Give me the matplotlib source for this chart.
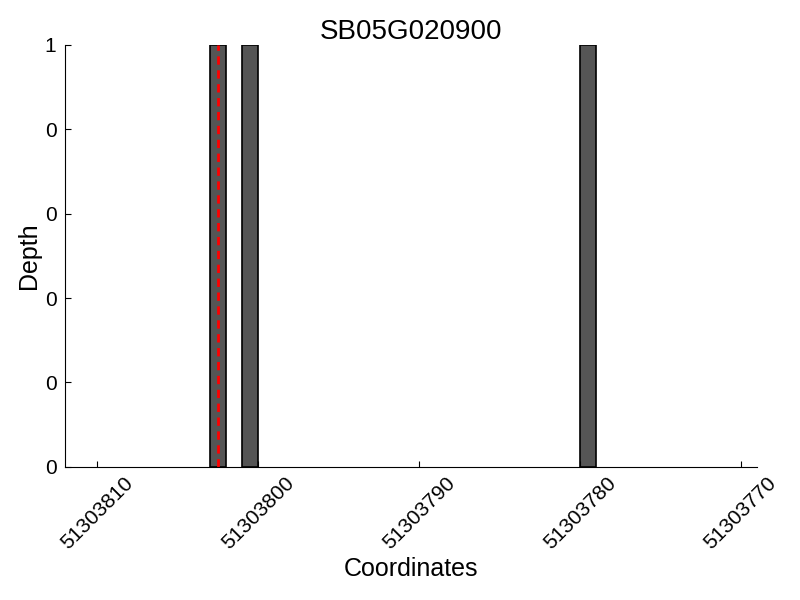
import matplotlib
matplotlib.use("Agg")
import matplotlib.pyplot as plt
from matplotlib.ticker import FuncFormatter

plt.rcParams['font.family'] = ['Liberation Sans', 'DejaVu Sans']

title = "SB05G020900"
positions = [51303802, 51303800, 51303779]
depths = [1, 1, 1]
marker_pos = 51303802.5
xticks = [51303810, 51303800, 51303790, 51303780, 51303770]
yticks = [0, 0.2, 0.4, 0.6, 0.8, 1.0]

fig = plt.figure(figsize=(8, 6), dpi=100)
ax = fig.add_axes([0.081, 0.222, 0.865, 0.703])
ax.bar(positions, depths, width=1, align='edge', color='#555555',
       edgecolor='black', linewidth=1.2)
ax.axvline(marker_pos, color='red', linestyle='--', linewidth=2, dashes=(3, 2))
ax.set_xlim(51303812, 51303769)
ax.set_ylim(0, 1)
ax.set_xticks(xticks)
ax.set_xticklabels([str(v) for v in xticks], rotation=45, ha='center')
ax.set_yticks(yticks)
ax.yaxis.set_major_formatter(FuncFormatter(lambda v, p: f"{int(v)}"))
ax.tick_params(direction='in', length=4, labelsize=15)
ax.tick_params(axis='x', pad=5)
ax.tick_params(axis='y', pad=6)
ax.spines['top'].set_visible(False)
ax.spines['right'].set_visible(False)
ax.set_xlabel("Coordinates", fontsize=18, labelpad=3)
ax.set_ylabel("Depth", fontsize=18, labelpad=3)
ax.set_title(title, fontsize=20, pad=4)
fig.savefig("out.png", dpi=100)
